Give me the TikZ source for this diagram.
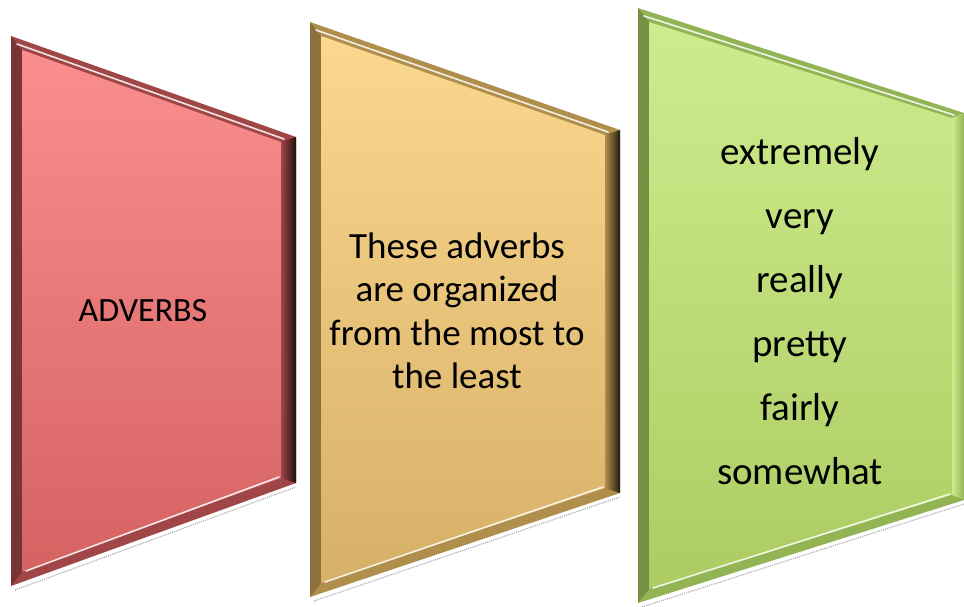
\documentclass[tikz,border=0pt]{standalone}
\usepackage{fontspec}
\setmainfont{Carlito}
\usepackage{tikz}
\usetikzlibrary{calc}
\definecolor{redtop}{RGB}{250,142,142}
\definecolor{redbot}{RGB}{214,98,98}
\definecolor{redrim}{RGB}{160,70,70}
\definecolor{tantop}{RGB}{250,216,142}
\definecolor{tanbot}{RGB}{214,176,102}
\definecolor{tanrim}{RGB}{176,142,76}
\definecolor{greentop}{RGB}{206,236,142}
\definecolor{greenbot}{RGB}{172,204,98}
\definecolor{greenrim}{RGB}{146,180,84}
\tikzset{
    red face/.style={top color=redtop, bottom color=redbot},
    tan face/.style={top color=tantop, bottom color=tanbot},
    green face/.style={top color=greentop, bottom color=greenbot},
    rim strip/.style={left color=#1, right color=#1!20!black},
    highlight/.style={white, line width=1.6pt, opacity=.85, line cap=round},
    shadow line/.style={gray!60, densely dotted, line width=1.2pt},
    panel text/.style={text=black, align=center, inner sep=0pt},
}

\begin{document}
\begin{tikzpicture}[x=1pt, y=-1pt]
        \useasboundingbox (0,0) rectangle (964,606);

        % red panel
        \coordinate (rTL) at (11,36);
        \coordinate (rTR) at (296,137);
        \coordinate (rBR) at (296,483);
        \coordinate (rBL) at (11,586);
        \coordinate (rTLi) at ($(rTL)+(11,14)$);
        \coordinate (rTRi) at ($(rTR)+(-15,5)$);
        \coordinate (rBRi) at ($(rBR)+(-15,-5)$);
        \coordinate (rBLi) at ($(rBL)+(11,-14)$);
        \draw[shadow line] ($(rBL)+(4,4)$) -- ($(rBR)+(0,4)$);
        \fill[redrim] (rTL) -- (rTR) -- (rBR) -- (rBL) -- cycle;
        \fill[redrim!75!black] (rTL) -- (rTLi) -- (rBLi) -- (rBL) -- cycle;
        \shade[red face] (rTLi) -- (rTRi) -- (rBRi) -- (rBLi) -- cycle;
        \shade[rim strip=redrim] (rTRi) -- (rTR) -- (rBR) -- (rBRi) -- cycle;
        \draw[highlight] ($(rTL)+(6,8)$) -- ($(rTR)+(-12,2)$);
        \draw[highlight] ($(rBLi)+(4,-1)$) -- ($(rBRi)+(-2,-1)$);

        % tan panel
        \coordinate (tTL) at (310,22);
        \coordinate (tTR) at (620,130);
        \coordinate (tBR) at (620,493);
        \coordinate (tBL) at (310,597);
        \coordinate (tTLi) at ($(tTL)+(11,14)$);
        \coordinate (tTRi) at ($(tTR)+(-15,5)$);
        \coordinate (tBRi) at ($(tBR)+(-15,-5)$);
        \coordinate (tBLi) at ($(tBL)+(11,-14)$);
        \draw[shadow line] ($(tBL)+(4,4)$) -- ($(tBR)+(0,4)$);
        \fill[tanrim] (tTL) -- (tTR) -- (tBR) -- (tBL) -- cycle;
        \fill[tanrim!80!black] (tTL) -- (tTLi) -- (tBLi) -- (tBL) -- cycle;
        \shade[tan face] (tTLi) -- (tTRi) -- (tBRi) -- (tBLi) -- cycle;
        \shade[rim strip=tanrim] (tTRi) -- (tTR) -- (tBR) -- (tBRi) -- cycle;
        \draw[highlight] ($(tTL)+(6,8)$) -- ($(tTR)+(-12,2)$);
        \draw[highlight] ($(tBLi)+(4,-1)$) -- ($(tBRi)+(-2,-1)$);

        % green panel
        \coordinate (gTL) at (638,8);
        \coordinate (gTR) at (964,113);
        \coordinate (gBR) at (964,500);
        \coordinate (gBL) at (638,603);
        \coordinate (gTLi) at ($(gTL)+(11,14)$);
        \coordinate (gTRi) at ($(gTR)+(-12,5)$);
        \coordinate (gBRi) at ($(gBR)+(-12,-5)$);
        \coordinate (gBLi) at ($(gBL)+(11,-14)$);
        \draw[shadow line] ($(gBL)+(4,4)$) -- ($(gBR)+(0,4)$);
        \fill[greenrim] (gTL) -- (gTR) -- (gBR) -- (gBL) -- cycle;
        \fill[greenrim!80!black] (gTL) -- (gTLi) -- (gBLi) -- (gBL) -- cycle;
        \shade[green face] (gTLi) -- (gTRi) -- (gBRi) -- (gBLi) -- cycle;
        \shade[left color=greentop, right color=greenrim] (gTRi) -- (gTR) -- (gBR) -- (gBRi) -- cycle;
        \draw[highlight] ($(gTL)+(6,8)$) -- ($(gTR)+(-10,2)$);
        \draw[highlight] ($(gBLi)+(4,-1)$) -- ($(gBRi)+(-2,-1)$);

        % texts
        \node[panel text, font=\fontsize{34}{40}\selectfont] (title) at (143,311) {ADVERBS};
        \node[panel text, font=\fontsize{37}{43.5}\selectfont] (note) at (457,311)
            {These adverbs\\are organized\\from the most to\\the least};
        \node[panel text, font=\fontsize{39}{64}\selectfont] (levels) at (800,311)
            {extremely\\very\\really\\pretty\\fairly\\somewhat};
    \end{tikzpicture}
\end{document}
